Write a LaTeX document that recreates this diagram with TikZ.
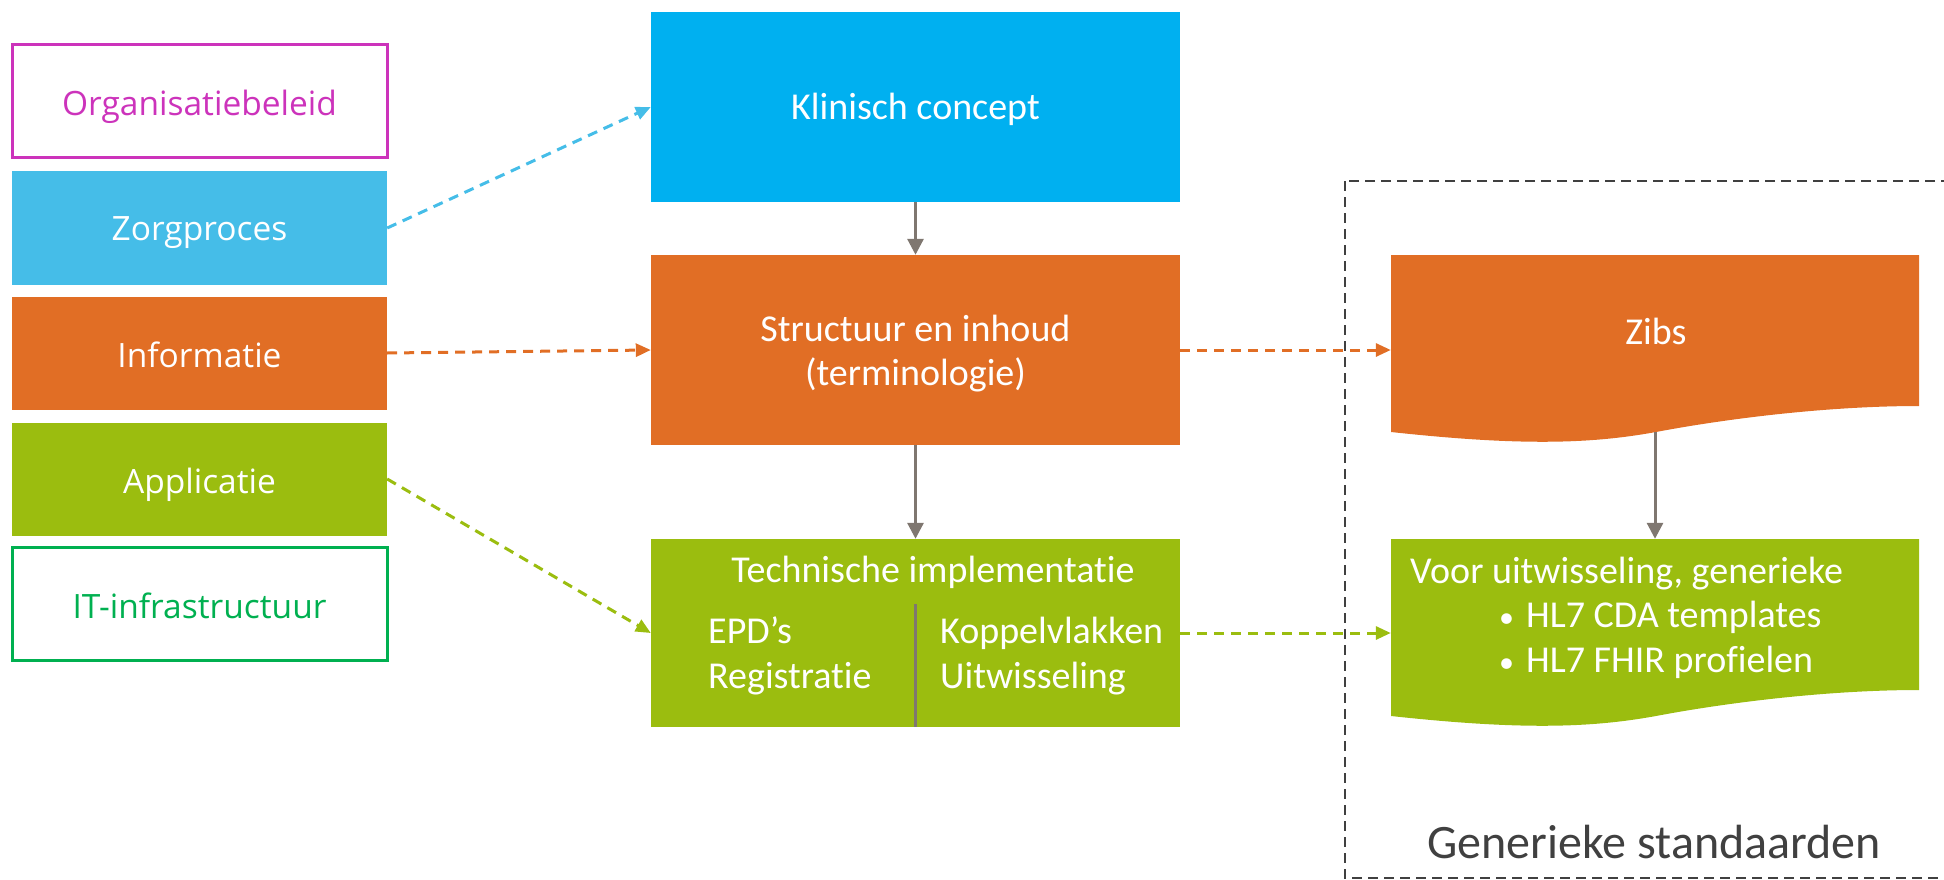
\documentclass[tikz,border=0pt]{standalone}
\usepackage{fontspec}
\setmainfont{Carlito}[RawFeature=-liga]
\newfontfamily\leftfont{Open Sans}
\usetikzlibrary{arrows.meta}
\definecolor{cMag}{RGB}{204,51,187}
\definecolor{cSky}{RGB}{69,189,232}
\definecolor{cBlue}{RGB}{0,176,240}
\definecolor{cOrange}{RGB}{225,110,37}
\definecolor{cGreen}{RGB}{155,189,15}
\definecolor{cIT}{RGB}{0,176,80}
\definecolor{cGrey}{RGB}{127,119,112}
\definecolor{cDark}{RGB}{64,64,64}
\begin{document}
\begin{tikzpicture}[x=1pt,y=-1pt,
  lbox/.style={rectangle, inner sep=0pt, minimum width=375pt, minimum height=113pt},
  mbox/.style={rectangle, inner sep=0pt, minimum width=529pt, minimum height=190pt},
  docbox/.style={rectangle, inner sep=0pt, minimum width=528pt, minimum height=177pt},
  ltxt/.style={anchor=base, inner sep=0pt, font=\leftfont\fontsize{33.5}{40}\selectfont},
  mtxt/.style={anchor=base, inner sep=0pt, text=white, font=\fontsize{38}{45}\selectfont},
  mtxtw/.style={mtxt, anchor=base west},
  darr/.style={line width=3pt, dash pattern=on 10pt off 7pt, -{Triangle[length=15pt,width=13pt]}},
  garr/.style={line width=3pt, draw=cGrey, -{Triangle[length=16pt,width=16pt]}}
]
\useasboundingbox (0,0) rectangle (1944,880);
\clip (0,0) rectangle (1944,880);

% left layers
\node[lbox, draw=cMag, line width=3pt] (org) at (199.5,101.5) {};
\node[lbox, fill=cSky] (zorg) at (199.5,228) {};
\node[lbox, fill=cOrange] (info) at (199.5,353) {};
\node[lbox, fill=cGreen] (appl) at (199.5,479) {};
\node[lbox, draw=cIT, line width=3pt] (it) at (199.5,604) {};
\node[ltxt, text=cMag] (orgT) at (199.5,116) {Organisatiebeleid};
\node[ltxt, text=white] (zorgT) at (199.5,240) {Zorgproces};
\node[ltxt, text=white] (infoT) at (199.5,367) {Informatie};
\node[ltxt, text=white] (applT) at (199.5,493) {Applicatie};
\node[ltxt, text=cIT] (itT) at (199.5,618) {IT-infrastructuur};

% middle column
\node[mbox, fill=cBlue] (klin) at (915.5,107) {};
\node[mbox, fill=cOrange] (struct) at (915.5,350) {};
\node[mbox, fill=cGreen, minimum height=188pt] (tech) at (915.5,633) {};
\node[mtxt] (klinT) at (915.5,120) {Klinisch concept};
\node[mtxt] (structT1) at (915.5,341) {Structuur en inhoud};
\node[mtxt] (structT2) at (915.5,385) {(terminologie)};
\node[mtxt] (techT) at (933,582) {Technische implementatie};
\node[mtxtw] (epdT) at (708,643) {EPD’s};
\node[mtxtw] (regT) at (708,688) {Registratie};
\node[mtxtw] (kopT) at (940,643) {Koppelvlakken};
\node[mtxtw] (uitT) at (940,688) {Uitwisseling};
\coordinate (divtop) at (915.5,604);
\draw[cGrey, line width=2.5pt] (divtop) -- (divtop |- tech.south);

% right frame
\draw[cDark, line width=2.5pt, dash pattern=on 10pt off 6pt] (1345,181) rectangle (1975,878);

% document shapes
\fill[cOrange] (1391,255) -- (1919,255) -- (1919,406)
  .. controls (1830,406) and (1730,418) .. (1656,432)
  .. controls (1590,444) and (1520,446) .. (1391,432) -- cycle;
\fill[cGreen] (1391,539) -- (1919,539) -- (1919,690)
  .. controls (1830,690) and (1730,702) .. (1656,716)
  .. controls (1590,728) and (1520,730) .. (1391,716) -- cycle;
\node[docbox] (zibs) at (1655,343.5) {};
\node[docbox] (gen) at (1655,627.5) {};
\node[mtxt] (zibsT) at (1656,344) {Zibs};
\node[mtxtw] (voorT) at (1410,583) {Voor uitwisseling, generieke};
\node[mtxtw, font=\fontsize{30}{36}\selectfont] (b1) at (1499,627) {•};
\node[mtxtw] (cdaT) at (1526,627) {HL7 CDA templates};
\node[mtxtw, font=\fontsize{30}{36}\selectfont] (b2) at (1499,672) {•};
\node[mtxtw] (fhirT) at (1526,672) {HL7 FHIR profielen};
\node[anchor=base, inner sep=0pt, text=cDark, font=\fontsize{48}{56}\selectfont] (genT) at (1654,858) {Generieke standaarden};

% connectors
\draw[darr, draw=cSky] (zorg.east) -- (klin.west);
\draw[darr, draw=cOrange] (info.east) -- (struct.west);
\draw[darr, draw=cGreen] (appl.east) -- (tech.west);
\draw[darr, draw=cOrange] (struct.east) -- (struct.east -| zibs.west);
\draw[darr, draw=cGreen] (tech.east) -- (tech.east -| gen.west);
\draw[garr] (klin.south) -- (struct.north);
\draw[garr] (struct.south) -- (tech.north);
\draw[garr] (zibs.south) -- (gen.north);
\end{tikzpicture}
\end{document}
